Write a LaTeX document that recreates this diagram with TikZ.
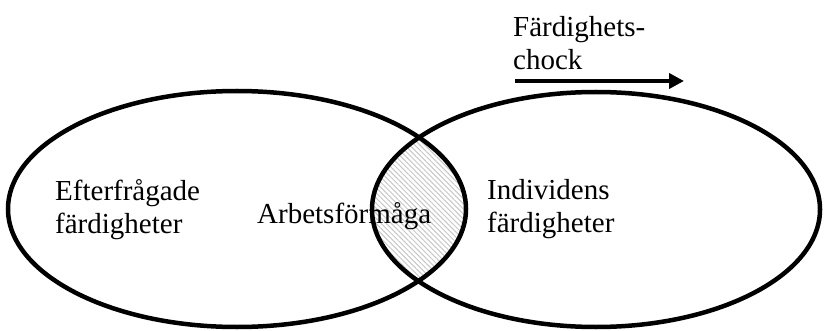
\documentclass[tikz,border=0pt]{standalone}
\usepackage{fontspec}
\setmainfont{Liberation Serif}
\usetikzlibrary{arrows.meta,patterns.meta}
\tikzset{
  lbl/.style={inner sep=0pt, align=left, font=\fontsize{29}{33}\selectfont},
  ring/.style={draw=black, line width=4.5pt},
  hatch/.style={pattern={Lines[angle=-45,distance=3.6pt,line width=1pt]}, pattern color=black!22},
  shockarrow/.style={line width=4pt, -{Triangle[length=15pt,width=15pt]}}
}
\begin{document}
\begin{tikzpicture}[x=1pt,y=-1pt]
\useasboundingbox (0,0) rectangle (824,331);
% lens
\begin{scope}
  \clip (237,209) ellipse [x radius=229, y radius=118];
  \fill[hatch] (596,209.5) ellipse [x radius=224, y radius=117.5];
\end{scope}
% labels
\node[lbl, anchor=west] (efter) at (55,209.5) {Efterfrågade\\färdigheter};
\node[lbl, anchor=west] (arbets) at (257,216) {Arbetsförmåga};
\node[lbl, anchor=west] (indiv) at (487,209.5) {Individens\\färdigheter};
\node[lbl, anchor=west] (chock) at (513,43) {Färdighets-\\chock};
% ellipses
\draw[ring] (237,209) ellipse [x radius=229, y radius=118];
\draw[ring] (596,209.5) ellipse [x radius=224, y radius=117.5];
% arrow
\coordinate (a1) at (515,81);
\coordinate (a2) at (684,81);
\draw[shockarrow] (a1) -- (a2);
\end{tikzpicture}
\end{document}
